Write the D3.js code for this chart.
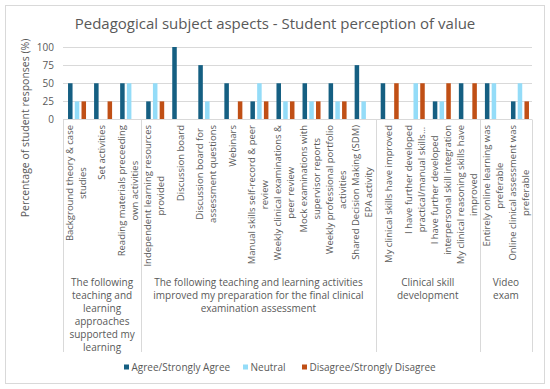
<!DOCTYPE html>
<html>
<head>
<meta charset="utf-8">
<script src="https://cdn.jsdelivr.net/npm/d3@7"></script>
<style>
  html, body { margin: 0; padding: 0; background: #fff; }
  text { font-family: "Open Sans", sans-serif; fill: #595959; }
</style>
</head>
<body>
<div id="chartContainer"></div>
<script>
// data
var categories = [
  "Background theory & case\nstudies",
  "Set activities",
  "Reading materials preceeding\nown activities",
  "Independent learning resources\nprovided",
  "Discussion board",
  "Discussion board for\nassessment questions",
  "Webinars",
  "Manual skills self-record & peer\nreview",
  "Weekly clinical examinations &\npeer review",
  "Mock examinations with\nsupervisor reports",
  "Weekly professional portfolio\nactivities",
  "Shared Decision Making (SDM)\nEPA activity",
  "My clinical skills have improved",
  "I have further developed\npractical/manual skills...",
  "I have further developed\ninterpersonal skill integration",
  "My clinical reasoning skills have\nimproved",
  "Entirely online learning was\npreferable",
  "Online clinical assessment was\npreferable"
];

var groups = [
  { lines: ["The following", "teaching and", "learning", "approaches", "supported my", "learning"], size: 3 },
  { lines: ["The following teaching and learning activities", "improved my preparation for the final clinical", "examination assessment"], size: 9 },
  { lines: ["Clinical skill", "development"], size: 4 },
  { lines: ["Video", "exam"], size: 2 }
];

var seriesNames = ["Agree/Strongly Agree", "Neutral", "Disagree/Strongly Disagree"];
var agree    = [50, 50, 50, 25, 100, 75, 50, 25, 50, 50, 50, 75, 50, 0, 25, 50, 50, 25];
var neutral  = [25, 0, 50, 50, 0, 25, 0, 50, 25, 25, 25, 25, 0, 50, 25, 0, 50, 50];
var disagree = [25, 25, 0, 25, 0, 0, 25, 25, 25, 25, 25, 0, 50, 50, 50, 50, 0, 25];
var yTicks = [0, 25, 50, 75, 100];

var colors = ["#155f82", "#94dcf8", "#c04f15"];

var attrs = {
  width: 550,
  height: 389,
  plot: { left: 63, right: 532, top: 47, bottom: 119.5 },
  sepBottom: 352,
  labelTop: 125
};

var series = [agree, neutral, disagree];
var rows = categories.map(function (c, i) {
  return { cat: i, values: series.map(function (s, j) { return { key: j, value: s[i] }; }) };
});

var svg = d3.select("#chartContainer")
  .append("svg")
  .attr("width", attrs.width)
  .attr("height", attrs.height);

// chart border
svg.append("rect")
  .attr("x", 5.5).attr("y", 5.5)
  .attr("width", 539).attr("height", 378)
  .attr("fill", "#fff")
  .attr("stroke", "#d9d9d9");

// title
svg.append("text")
  .attr("x", 275).attr("y", 29)
  .attr("text-anchor", "middle")
  .style("font-size", "15px")
  .text("Pedagogical subject aspects - Student perception of value");

var x = d3.scaleBand()
  .domain(d3.range(categories.length))
  .range([attrs.plot.left, attrs.plot.right]);

var x1 = d3.scaleBand()
  .domain([0, 1, 2])
  .range([x.bandwidth() / 2 - 8, x.bandwidth() / 2 + 10])
  .paddingInner(0.33);

var y = d3.scaleLinear()
  .domain([0, 100])
  .range([attrs.plot.bottom, attrs.plot.top]);

// gridlines
svg.append("g")
  .selectAll("line")
  .data(yTicks.filter(function (d) { return d > 0; }))
  .enter()
  .append("line")
  .attr("x1", attrs.plot.left).attr("x2", attrs.plot.right)
  .attr("y1", function (d) { return Math.round(y(d)) + 0.5; })
  .attr("y2", function (d) { return Math.round(y(d)) + 0.5; })
  .attr("stroke", "#d9d9d9");

// y ticks
var yAxis = svg.append("g")
  .attr("transform", "translate(" + (attrs.plot.left - 9) + ",0)")
  .call(d3.axisLeft(y).tickValues(yTicks).tickSize(0).tickPadding(0));
yAxis.select(".domain").remove();
yAxis.selectAll("text")
  .style("font-size", "10px")
  .style("font-family", "'Open Sans', sans-serif")
  .attr("fill", "#595959");

// y title
svg.append("text")
  .attr("transform", "translate(29,128) rotate(-90)")
  .attr("text-anchor", "middle")
  .style("font-size", "10.5px")
  .text("Percentage of student responses (%)");

// bars
var catG = svg.append("g")
  .selectAll("g")
  .data(rows)
  .enter()
  .append("g")
  .attr("transform", function (d) { return "translate(" + x(d.cat) + ",0)"; });

catG.selectAll("rect")
  .data(function (d) { return d.values; })
  .enter()
  .append("rect")
  .attr("x", function (d) { return x1(d.key); })
  .attr("width", x1.bandwidth())
  .attr("y", function (d) { return y(d.value); })
  .attr("height", function (d) { return y(0) - y(d.value); })
  .attr("fill", function (d) { return colors[d.key]; });

// category axis line and separators
svg.append("line")
  .attr("x1", attrs.plot.left).attr("x2", attrs.plot.right)
  .attr("y1", attrs.plot.bottom).attr("y2", attrs.plot.bottom)
  .attr("stroke", "#d9d9d9");

var bounds = [0];
groups.forEach(function (g) { bounds.push(bounds[bounds.length - 1] + g.size); });

svg.append("g")
  .selectAll("line")
  .data(bounds)
  .enter()
  .append("line")
  .attr("x1", function (d) { return Math.round(d === categories.length ? attrs.plot.right : x(d)) + 0.5; })
  .attr("x2", function (d) { return Math.round(d === categories.length ? attrs.plot.right : x(d)) + 0.5; })
  .attr("y1", attrs.plot.bottom).attr("y2", attrs.sepBottom)
  .attr("stroke", "#d9d9d9");

// category labels (rotated, block top-aligned, lines centered)
var labelG = svg.append("g");
categories.forEach(function (c, i) {
  var lines = c.split("\n");
  var cx = x(i) + x.bandwidth() / 2;
  var lh = 13;
  var texts = lines.map(function (l, k) {
    return labelG.append("text")
      .style("font-size", "9.5px")
      .attr("text-anchor", "middle")
      .attr("dy", "0.35em")
      .text(l);
  });
  var w = d3.max(texts, function (t) { return t.node().getComputedTextLength(); });
  texts.forEach(function (t, k) {
    var lx = cx + (k - (lines.length - 1) / 2) * lh;
    var ly = attrs.labelTop + w / 2;
    t.attr("transform", "translate(" + lx + "," + ly + ") rotate(-90)");
  });
});

// group labels
groups.forEach(function (g, i) {
  var gx = (x(bounds[i]) + (bounds[i + 1] === categories.length ? attrs.plot.right : x(bounds[i + 1]))) / 2;
  svg.append("text")
    .attr("text-anchor", "middle")
    .style("font-size", "10px")
    .selectAll("tspan")
    .data(g.lines)
    .enter()
    .append("tspan")
    .attr("x", gx)
    .attr("y", function (d, k) { return 286 + k * 13; })
    .text(function (d) { return d; });
});

// legend
var legendX = [124, 243, 302];
var legend = svg.append("g")
  .selectAll("g")
  .data(seriesNames)
  .enter()
  .append("g")
  .attr("transform", function (d, i) { return "translate(" + legendX[i] + ",367)"; });

legend.append("rect")
  .attr("x", 0).attr("y", -2.5)
  .attr("width", 5).attr("height", 5)
  .attr("fill", function (d, i) { return colors[i]; });

legend.append("text")
  .attr("x", 7.5)
  .attr("dy", "0.35em")
  .style("font-size", "10px")
  .text(function (d) { return d; });
</script>
</body>
</html>
